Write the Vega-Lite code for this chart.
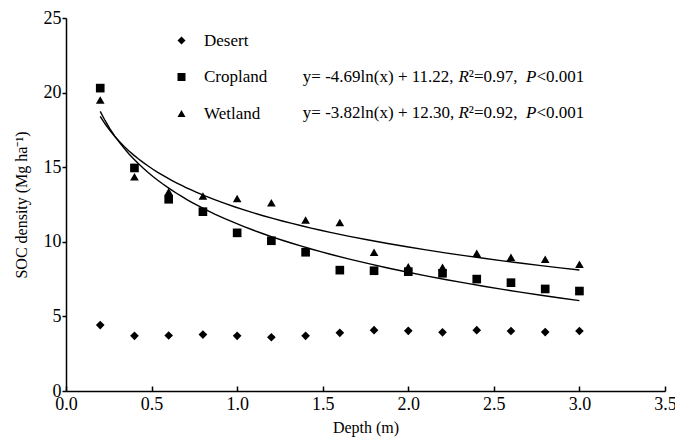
{
  "$schema": "https://vega.github.io/schema/vega-lite/v6.json",
  "width": 599,
  "height": 373,
  "autosize": {"type": "none"},
  "padding": {"left": 66, "top": 18, "right": 10, "bottom": 50},
  "background": "white",
  "config": {
    "view": {"stroke": null},
    "font": "Liberation Serif",
    "axis": {
      "grid": false,
      "domainColor": "black",
      "tickColor": "black",
      "labelColor": "black",
      "titleColor": "black",
      "labelFont": "Liberation Serif",
      "titleFont": "Liberation Serif",
      "labelFontSize": 18,
      "titleFontSize": 16,
      "titleFontWeight": "normal",
      "labelFlush": false,
      "domainWidth": 1.5,
      "tickWidth": 1.5
    },
    "legend": {
      "labelFont": "Liberation Serif",
      "labelFontSize": 17,
      "labelColor": "black",
      "padding": 0
    },
    "text": {"font": "Liberation Serif", "fontSize": 17, "color": "black", "align": "left", "baseline": "middle"}
  },
  "datasets": {
    "soc": [
      {"depth": 0.2, "soc": 4.42, "type": "Desert"},
      {"depth": 0.4, "soc": 3.7, "type": "Desert"},
      {"depth": 0.6, "soc": 3.72, "type": "Desert"},
      {"depth": 0.8, "soc": 3.78, "type": "Desert"},
      {"depth": 1.0, "soc": 3.7, "type": "Desert"},
      {"depth": 1.2, "soc": 3.6, "type": "Desert"},
      {"depth": 1.4, "soc": 3.7, "type": "Desert"},
      {"depth": 1.6, "soc": 3.9, "type": "Desert"},
      {"depth": 1.8, "soc": 4.08, "type": "Desert"},
      {"depth": 2.0, "soc": 4.03, "type": "Desert"},
      {"depth": 2.2, "soc": 3.93, "type": "Desert"},
      {"depth": 2.4, "soc": 4.08, "type": "Desert"},
      {"depth": 2.6, "soc": 4.02, "type": "Desert"},
      {"depth": 2.8, "soc": 3.95, "type": "Desert"},
      {"depth": 3.0, "soc": 4.02, "type": "Desert"},
      {"depth": 0.2, "soc": 20.3, "type": "Cropland"},
      {"depth": 0.4, "soc": 14.95, "type": "Cropland"},
      {"depth": 0.6, "soc": 12.85, "type": "Cropland"},
      {"depth": 0.8, "soc": 12.02, "type": "Cropland"},
      {"depth": 1.0, "soc": 10.6, "type": "Cropland"},
      {"depth": 1.2, "soc": 10.07, "type": "Cropland"},
      {"depth": 1.4, "soc": 9.3, "type": "Cropland"},
      {"depth": 1.6, "soc": 8.1, "type": "Cropland"},
      {"depth": 1.8, "soc": 8.06, "type": "Cropland"},
      {"depth": 2.0, "soc": 8.0, "type": "Cropland"},
      {"depth": 2.2, "soc": 7.89, "type": "Cropland"},
      {"depth": 2.4, "soc": 7.5, "type": "Cropland"},
      {"depth": 2.6, "soc": 7.26, "type": "Cropland"},
      {"depth": 2.8, "soc": 6.84, "type": "Cropland"},
      {"depth": 3.0, "soc": 6.7, "type": "Cropland"},
      {"depth": 0.2, "soc": 19.5, "type": "Wetland"},
      {"depth": 0.4, "soc": 14.36, "type": "Wetland"},
      {"depth": 0.6, "soc": 13.36, "type": "Wetland"},
      {"depth": 0.8, "soc": 13.07, "type": "Wetland"},
      {"depth": 1.0, "soc": 12.9, "type": "Wetland"},
      {"depth": 1.2, "soc": 12.62, "type": "Wetland"},
      {"depth": 1.4, "soc": 11.46, "type": "Wetland"},
      {"depth": 1.6, "soc": 11.3, "type": "Wetland"},
      {"depth": 1.8, "soc": 9.3, "type": "Wetland"},
      {"depth": 2.0, "soc": 8.33, "type": "Wetland"},
      {"depth": 2.2, "soc": 8.29, "type": "Wetland"},
      {"depth": 2.4, "soc": 9.23, "type": "Wetland"},
      {"depth": 2.6, "soc": 8.96, "type": "Wetland"},
      {"depth": 2.8, "soc": 8.83, "type": "Wetland"},
      {"depth": 3.0, "soc": 8.49, "type": "Wetland"}
    ]
  },
  "layer": [
    {
      "data": {"name": "soc"},
      "transform": [
        {"filter": "datum.type !== 'Desert'"},
        {"regression": "soc", "on": "depth", "method": "log", "groupby": ["type"], "extent": [0.2, 3.0]}
      ],
      "mark": {"type": "line", "color": "black", "strokeWidth": 1.4},
      "encoding": {
        "x": {"field": "depth", "type": "quantitative"},
        "y": {"field": "soc", "type": "quantitative"},
        "detail": {"field": "type"}
      }
    },
    {
      "data": {"name": "soc"},
      "mark": {"type": "point", "filled": true, "color": "black", "opacity": 1, "size": 75},
      "encoding": {
        "x": {
          "field": "depth", "type": "quantitative",
          "scale": {"domain": [0, 3.5], "nice": false, "zero": true},
          "axis": {"title": "Depth (m)", "values": [0, 0.5, 1, 1.5, 2, 2.5, 3, 3.5], "format": ".1f", "tickSize": -5, "labelPadding": 9, "titlePadding": 6}
        },
        "y": {
          "field": "soc", "type": "quantitative",
          "scale": {"domain": [0, 25], "nice": false},
          "axis": {"title": "SOC density  (Mg ha⁻¹)", "values": [0, 5, 10, 15, 20, 25], "tickSize": 4, "labelPadding": 1, "titlePadding": 14}
        },
        "shape": {
          "field": "type", "type": "nominal",
          "scale": {"domain": ["Desert", "Cropland", "Wetland"], "range": ["diamond", "square", "triangle-up"]},
          "legend": {
            "title": null, "orient": "none", "legendX": 107, "legendY": 14,
            "symbolSize": 64, "symbolFillColor": "black", "symbolStrokeColor": "black",
            "labelOffset": 14, "rowPadding": 18.5
          }
        }
      }
    },
    {"data": {"values": [{}]}, "mark": {"type": "text", "text": "y= -4.69ln(x) + 11.22,"}, "encoding": {"x": {"datum": 1.384}, "y": {"datum": 21.05}}},
    {"data": {"values": [{}]}, "mark": {"type": "text", "text": "R", "fontStyle": "italic", "dx": 155.6}, "encoding": {"x": {"datum": 1.384}, "y": {"datum": 21.05}}},
    {"data": {"values": [{}]}, "mark": {"type": "text", "text": "²=0.97,", "dx": 166.0}, "encoding": {"x": {"datum": 1.384}, "y": {"datum": 21.05}}},
    {"data": {"values": [{}]}, "mark": {"type": "text", "text": "P", "fontStyle": "italic", "dx": 223.2}, "encoding": {"x": {"datum": 1.384}, "y": {"datum": 21.05}}},
    {"data": {"values": [{}]}, "mark": {"type": "text", "text": "<0.001", "dx": 233.6}, "encoding": {"x": {"datum": 1.384}, "y": {"datum": 21.05}}},
    {"data": {"values": [{}]}, "mark": {"type": "text", "text": "y= -3.82ln(x) + 12.30,"}, "encoding": {"x": {"datum": 1.384}, "y": {"datum": 18.63}}},
    {"data": {"values": [{}]}, "mark": {"type": "text", "text": "R", "fontStyle": "italic", "dx": 155.6}, "encoding": {"x": {"datum": 1.384}, "y": {"datum": 18.63}}},
    {"data": {"values": [{}]}, "mark": {"type": "text", "text": "²=0.92,", "dx": 166.0}, "encoding": {"x": {"datum": 1.384}, "y": {"datum": 18.63}}},
    {"data": {"values": [{}]}, "mark": {"type": "text", "text": "P", "fontStyle": "italic", "dx": 223.2}, "encoding": {"x": {"datum": 1.384}, "y": {"datum": 18.63}}},
    {"data": {"values": [{}]}, "mark": {"type": "text", "text": "<0.001", "dx": 233.6}, "encoding": {"x": {"datum": 1.384}, "y": {"datum": 18.63}}}
  ]
}
